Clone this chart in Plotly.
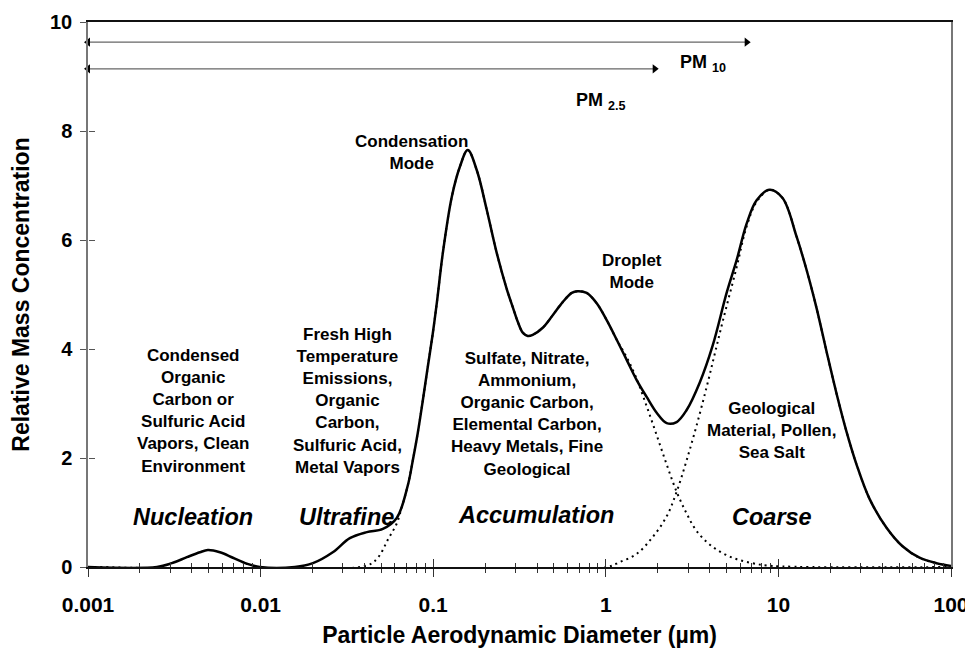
import math
import plotly.graph_objects as go

# ---------------- data ----------------
# total (solid) mass distribution
total_x = [0.001, 0.00251, 0.00306, 0.00374, 0.00445, 0.00495, 0.00581, 0.00691, 0.00833, 0.0099,
           0.0158, 0.0201, 0.0262, 0.0329, 0.0413, 0.0511, 0.0615, 0.0713, 0.0762, 0.0814,
           0.0871, 0.0930, 0.0995, 0.105, 0.1137, 0.1281, 0.1426, 0.1586, 0.1789, 0.2044,
           0.2335, 0.2668, 0.2890, 0.3090, 0.3303, 0.3531, 0.3773, 0.4311, 0.4927, 0.5627,
           0.6348, 0.6877, 0.7750, 0.8857, 1.012, 1.157, 1.321, 1.510, 1.725, 1.971,
           2.253, 2.573, 2.941, 3.499, 4.159, 5.012, 5.728, 6.546, 7.478, 8.892,
           10.57, 12.75, 14.57, 16.64, 19.02, 21.73, 24.83, 28.37, 33.74, 42.32,
           52.39, 65.7, 82.4, 100.0]
total_y = [0.0, 0.0, 0.07, 0.18, 0.27, 0.31, 0.27, 0.17, 0.06, 0.0,
           0.0, 0.07, 0.27, 0.53, 0.64, 0.70, 0.90, 1.5, 1.96, 2.46,
           3.06, 3.67, 4.29, 4.85, 5.76, 6.79, 7.34, 7.65, 7.28, 6.55,
           5.76, 5.10, 4.77, 4.50, 4.30, 4.24, 4.26, 4.39, 4.62, 4.86,
           5.03, 5.06, 5.03, 4.84, 4.53, 4.17, 3.80, 3.43, 3.12, 2.83,
           2.64, 2.66, 2.88, 3.38, 4.06, 5.03, 5.63, 6.30, 6.73, 6.92,
           6.77, 6.06, 5.45, 4.75, 3.95, 3.18, 2.48, 1.88, 1.25, 0.72,
           0.38, 0.17, 0.07, 0.02]

# accumulation mode (dotted)
accum_x = [0.001, 0.0413, 0.0478, 0.0546, 0.0615, 0.0658, 0.0713, 0.0762, 0.0814, 0.0871,
           0.0930, 0.0995, 0.105, 0.1137, 0.1281, 0.1426, 0.1586, 0.1789, 0.2044, 0.2335,
           0.2668, 0.2890, 0.3090, 0.3303, 0.3531, 0.3773, 0.4311, 0.4927, 0.5627, 0.6348,
           0.6877, 0.7750, 0.8857, 1.012, 1.157, 1.321, 1.510, 1.725, 1.971, 2.253,
           2.573, 2.941, 3.360, 4.159, 5.429, 7.09, 9.26, 100.0]
accum_y = [0.0, 0.03, 0.17, 0.5, 0.8, 1.1, 1.5, 1.96, 2.46, 3.06,
           3.67, 4.29, 4.85, 5.76, 6.79, 7.34, 7.65, 7.28, 6.55, 5.76,
           5.10, 4.77, 4.50, 4.30, 4.24, 4.26, 4.39, 4.62, 4.86, 5.03,
           5.06, 5.03, 4.84, 4.53, 4.17, 3.85, 3.45, 2.95, 2.42, 1.88,
           1.38, 0.98, 0.66, 0.37, 0.17, 0.07, 0.02, 0.0]

# coarse mode (dotted)
coarse_x = [0.001, 1.012, 1.204, 1.51, 1.869, 2.253, 2.573, 2.941, 3.360, 3.838,
            4.270, 4.752, 5.728, 6.546, 7.478, 8.892, 10.57, 12.75, 14.57, 16.64,
            19.02, 21.73, 24.83, 28.37, 33.74, 42.32, 52.39, 65.7, 82.4, 100.0]
coarse_y = [0.0, 0.0, 0.09, 0.24, 0.55, 0.93, 1.38, 1.96, 2.60, 3.30,
            3.90, 4.50, 5.50, 6.25, 6.70, 6.92, 6.77, 6.06, 5.45, 4.75,
            3.95, 3.18, 2.48, 1.88, 1.25, 0.72, 0.38, 0.17, 0.07, 0.02]

# PM size-cut arrows: start, end (um) and height
pm_names = ["PM <sub>10</sub>", "PM <sub>2.5</sub>"]
pm_start = [0.001, 0.001]
pm_end = [6.55, 1.92]
pm_level = [9.63, 9.14]

x_tick_vals = [0.001, 0.01, 0.1, 1, 10, 100]
x_tick_text = ["0.001", "0.01", "0.1", "1", "10", "100"]
x_minor_vals = [m * d for d in [0.001, 0.01, 0.1, 1, 10] for m in range(2, 10)]
y_tick_vals = [0, 2, 4, 6, 8, 10]
y_tick_text = ["0", "2", "4", "6", "8", "10"]

FONT = "Liberation Sans, Arial, sans-serif"

fig = go.Figure()

dot_style = dict(color="black", width=2, dash="2px,4px")
fig.add_trace(go.Scatter(x=accum_x, y=accum_y, mode="lines", line=dot_style,
                         line_shape="spline", hoverinfo="skip", showlegend=False))
fig.add_trace(go.Scatter(x=coarse_x, y=coarse_y, mode="lines", line=dot_style,
                         line_shape="spline", hoverinfo="skip", showlegend=False))
fig.add_trace(go.Scatter(x=total_x, y=total_y, mode="lines",
                         line=dict(color="black", width=2.5, shape="spline", smoothing=1.0),
                         showlegend=False))

# PM arrows (double-headed)
for s, e, lv in zip(pm_start, pm_end, pm_level):
    fig.add_trace(go.Scatter(x=[s, e], y=[lv, lv], mode="lines+markers",
                             line=dict(color="#666", width=1.4),
                             marker=dict(symbol=["triangle-left", "triangle-right"], size=8,
                                         color="black"),
                             cliponaxis=False, hoverinfo="skip", showlegend=False))

# invisible trace so that the overlay axes (inner halves of crossing ticks) are drawn
fig.add_trace(go.Scatter(x=[1], y=[0], xaxis="x2", yaxis="y2", mode="markers",
                         marker=dict(opacity=0), hoverinfo="skip", showlegend=False))

tick_font_x = dict(family=FONT, size=21, color="black", weight="bold")
tick_font_y = dict(family=FONT, size=20, color="black", weight="bold")

# the page places the figure 8 px in from the window edges
fig.update_layout(
    width=965, height=640,
    margin=dict(l=80, r=22, t=14, b=81),
    paper_bgcolor="white", plot_bgcolor="white",
    font=dict(family=FONT, color="black"),
    xaxis=dict(
        type="log", range=[-3, 2], automargin=False,
        tickvals=x_tick_vals, ticktext=x_tick_text,
        ticks="outside", ticklen=8, tickwidth=1.3, tickcolor="#333",
        minor=dict(tickvals=x_minor_vals, ticks="outside", ticklen=4, tickwidth=1, tickcolor="#333"),
        showgrid=False, zeroline=False,
        showline=True, linecolor="#111", linewidth=1.5, mirror=True,
        tickfont=tick_font_x, ticklabelstandoff=10,
        title=dict(text="Particle Aerodynamic Diameter (µm)",
                   font=dict(family=FONT, size=23, color="black", weight="bold"),
                   standoff=13),
    ),
    yaxis=dict(
        range=[0, 10], automargin=False,
        tickvals=y_tick_vals, ticktext=y_tick_text,
        ticks="outside", ticklen=6, tickwidth=1.3, tickcolor="#555",
        showgrid=False, zeroline=False,
        showline=True, linecolor="#777", linewidth=1.5, mirror=True,
        tickfont=tick_font_y, ticklabelstandoff=4,
        title=dict(text="Relative Mass Concentration",
                   font=dict(family=FONT, size=23, color="black", weight="bold"),
                   standoff=14),
    ),
    xaxis2=dict(
        type="log", range=[-3, 2], overlaying="x", anchor="free", position=0,
        automargin=False,
        tickvals=x_tick_vals, showticklabels=False,
        ticks="inside", ticklen=8, tickwidth=1.3, tickcolor="#333",
        minor=dict(tickvals=x_minor_vals, ticks="inside", ticklen=4, tickwidth=1, tickcolor="#333"),
        showgrid=False, zeroline=False, showline=False,
    ),
    yaxis2=dict(
        range=[0, 10], overlaying="y", anchor="free", position=0,
        automargin=False,
        tickvals=y_tick_vals, showticklabels=False,
        ticks="inside", ticklen=6, tickwidth=1.3, tickcolor="#555",
        showgrid=False, zeroline=False, showline=False,
    ),
)

pm_label_pos = [(0.561, 9.23), (-0.030, 8.55)]
for name, (lx, ly) in zip(pm_names, pm_label_pos):
    fig.add_annotation(x=lx, y=ly, xref="x", yref="y", text=name, showarrow=False,
                       font=dict(family=FONT, size=18, color="black", weight="bold"))

desc_font = dict(family=FONT, size=17, color="black", weight="bold")
mode_font = dict(family=FONT, size=23.5, color="black", weight="bold", style="italic")

descriptions = [
    (-2.392, 2.86, "Condensed<br>Organic<br>Carbon or<br>Sulfuric Acid<br>Vapors, Clean<br>Environment"),
    (-1.494, 3.05, "Fresh High<br>Temperature<br>Emissions,<br>Organic<br>Carbon,<br>Sulfuric Acid,<br>Metal Vapors"),
    (-0.458, 2.81, "Sulfate, Nitrate,<br>Ammonium,<br>Organic Carbon,<br>Elemental Carbon,<br>Heavy Metals, Fine<br>Geological"),
    (-1.124, 7.60, "Condensation<br>Mode"),
    (0.150, 5.43, "Droplet<br>Mode"),
    (0.961, 2.51, "Geological<br>Material, Pollen,<br>Sea Salt"),
]
for lx, ly, t in descriptions:
    fig.add_annotation(x=lx, y=ly, xref="x", yref="y", text=t, showarrow=False,
                       font=desc_font, align="center")

modes = [
    (-2.392, 0.92, "Nucleation"),
    (-1.500, 0.92, "Ultrafine"),
    (-0.406, 0.95, "Accumulation"),
    (0.961, 0.92, "Coarse"),
]
for lx, ly, t in modes:
    fig.add_annotation(x=lx, y=ly, xref="x", yref="y", text=t, showarrow=False,
                       font=mode_font)

fig.write_html("out.html")
